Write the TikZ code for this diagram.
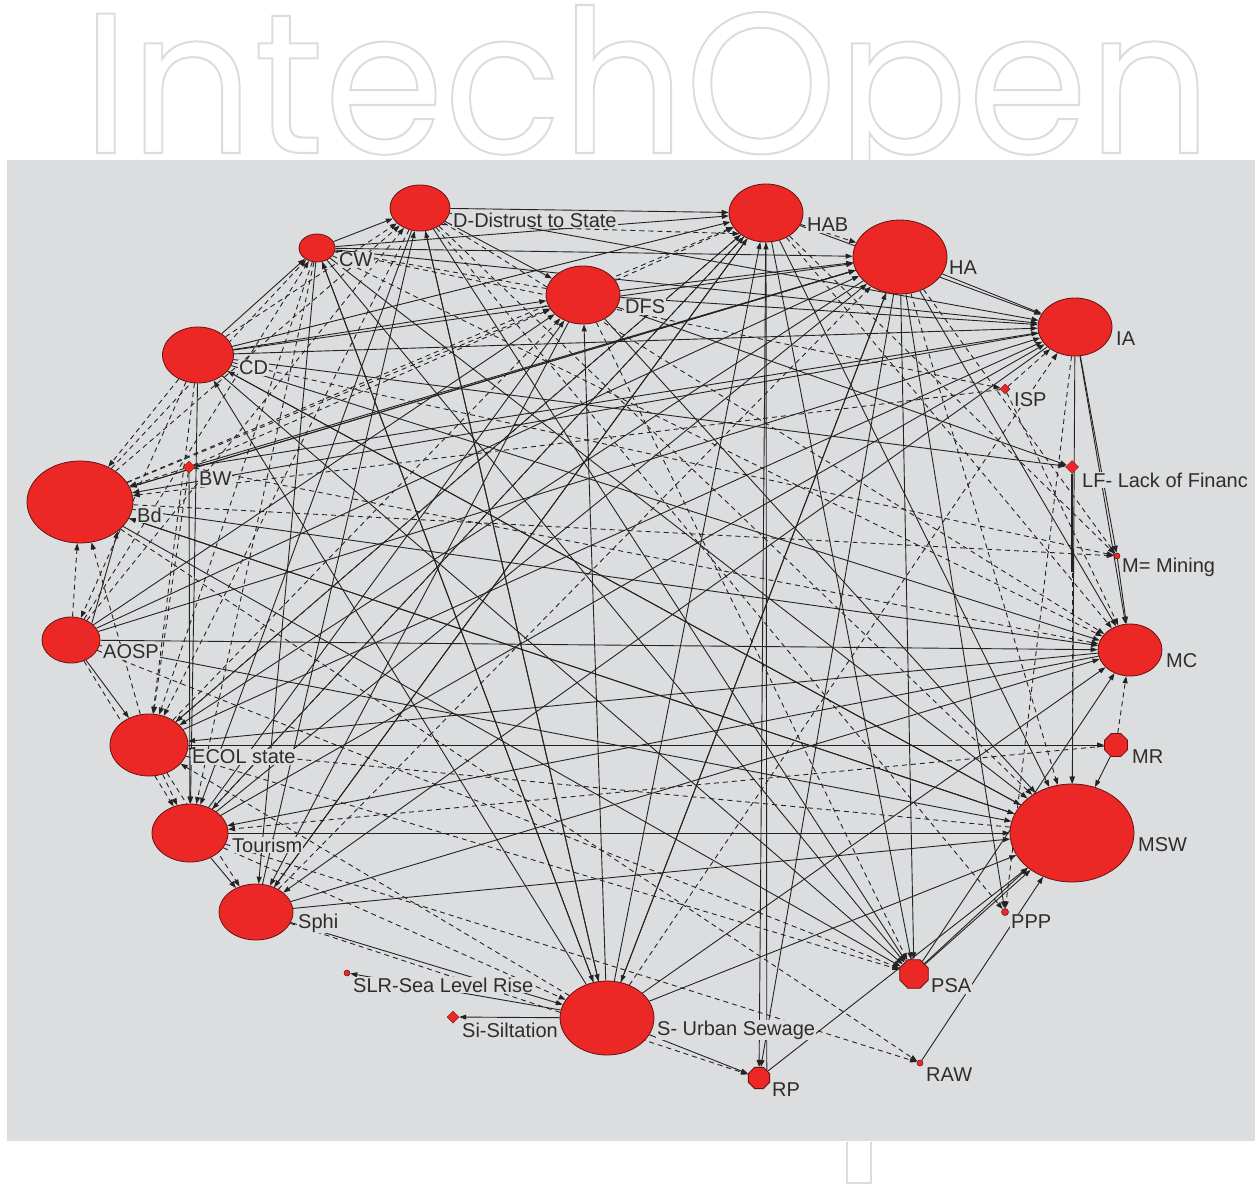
\documentclass[tikz,border=0pt]{standalone}
\usepackage{fontspec}
\setmainfont{Liberation Sans}
\newfontfamily\wmfont{Poppins}
\usetikzlibrary{shapes.geometric,arrows.meta}
\definecolor{bgc}{RGB}{220,221,223}
\definecolor{nodered}{RGB}{236,40,38}
\definecolor{edgec}{RGB}{35,35,35}
\definecolor{labc}{RGB}{45,45,45}
\definecolor{wmc}{RGB}{220,220,220}
\pgfdeclarelayer{back}
\pgfdeclarelayer{edges}
\pgfsetlayers{back,edges,main}
\tikzset{
  big/.style={ellipse, fill=nodered, draw=nodered!45!black, line width=0.8pt, inner sep=0pt},
  oct/.style={regular polygon, regular polygon sides=8, fill=nodered, draw=nodered!45!black, line width=0.8pt, inner sep=0pt},
  dia/.style={diamond, fill=nodered, draw=nodered!60!black, line width=0.5pt, inner sep=0pt, minimum width=12pt, minimum height=12pt},
  dot/.style={circle, fill=nodered, draw=nodered!40!black, line width=0.5pt, inner sep=0pt, minimum size=6pt},
  lab/.style={anchor=west, font=\fontsize{20}{20}\selectfont, text=labc, fill=bgc, inner sep=1pt},
  con/.style={draw=edgec, line width=0.9pt, -{Triangle[length=7pt,width=5pt]}},
  dcon/.style={con, dash pattern=on 5pt off 4pt},
  wmark/.style={anchor=base west, inner sep=0pt, text=wmc, font=\wmfont\fontsize{200}{200}\selectfont}
}
\begin{document}
\begin{tikzpicture}[x=1pt,y=-1pt]
\useasboundingbox (0,0) rectangle (1260,1188);
\begin{pgfonlayer}{back}
\node[wmark] (wm) at (82,153) {\scalebox{0.967}[1]{\special{pdf:literal direct 1 Tr 2 w}IntechOpen\special{pdf:literal direct 0 Tr}}};
\fill[bgc] (7,160) rectangle (1255,1141);
\draw[wmc, line width=2pt] (847,1142) -- (847,1183) -- (871,1183) -- (871,1142);
\end{pgfonlayer}

% nodes
\node[big, minimum width=60pt, minimum height=46pt] (D) at (420,208) {};
\node[big, minimum width=36pt, minimum height=28pt] (CW) at (317,248) {};
\node[big, minimum width=71pt, minimum height=56pt] (CD) at (198,355) {};
\node[big, minimum width=74pt, minimum height=58pt] (HAB) at (766,213) {};
\node[big, minimum width=74pt, minimum height=58pt] (DFS) at (583,295) {};
\node[big, minimum width=94pt, minimum height=74pt] (HA) at (900,257) {};
\node[big, minimum width=74pt, minimum height=58pt] (IA) at (1075,327) {};
\node[dia, minimum width=10pt, minimum height=10pt] (ISP) at (1005,389) {};
\node[dia, minimum width=13pt, minimum height=13pt] (LF) at (1072,467) {};
\node[dot] (M) at (1117,556) {};
\node[big, minimum width=64pt, minimum height=52pt] (MC) at (1130,650) {};
\node[oct, minimum size=25pt] (MR) at (1116,745) {};
\node[big, minimum width=124pt, minimum height=98pt] (MSW) at (1072,833) {};
\node[dot, minimum size=7pt] (PPP) at (1005,912) {};
\node[oct, minimum size=31pt] (PSA) at (914,974) {};
\node[dot] (RAW) at (920,1063) {};
\node[oct, minimum size=23pt] (RP) at (759,1078) {};
\node[big, minimum width=94pt, minimum height=74pt] (S) at (607,1018) {};
\node[dia] (Si) at (453,1017) {};
\node[dot] (SLR) at (347,973) {};
\node[big, minimum width=74pt, minimum height=56pt] (Sphi) at (256,912) {};
\node[big, minimum width=76pt, minimum height=58pt] (Tour) at (190,833) {};
\node[big, minimum width=78pt, minimum height=62pt] (ECOL) at (149,745) {};
\node[big, minimum width=58pt, minimum height=46pt] (AOSP) at (71,640) {};
\node[big, minimum width=106pt, minimum height=82pt] (Bd) at (80,502) {};
\node[dia] (BW) at (189,467) {};
\coordinate (LFend) at (1072,572);

% edges
\begin{pgfonlayer}{edges}
\foreach \a/\b in {D/HAB, D/DFS, D/IA, D/S, D/PSA, D/Tour,
  CW/HA, CW/IA, CW/HAB, CW/S, CW/MSW, CW/PSA, CW/Sphi, CW/D,
  CD/DFS, CD/HAB, CD/HA, CD/IA, CD/Tour, CD/CW, CD/MC, CD/MSW, CD/PSA, CD/LF,
  DFS/IA, DFS/HA, S/DFS, DFS/MSW, DFS/LF, DFS/Sphi,
  HAB/RP, HAB/MSW, HAB/PSA, HAB/Sphi, HAB/IA, HAB/Tour,
  HA/IA, HA/MC, HA/PSA, HA/RP, HA/ECOL, HA/S, HA/PPP, HA/Bd,
  IA/MC, IA/MSW, IA/Bd, IA/Sphi, IA/M,
  M/MC, MR/MSW,
  Bd/MSW, Bd/MC, Bd/PSA, Bd/HA,
  AOSP/MC, AOSP/MSW, AOSP.north east/Bd.south east, AOSP/DFS, AOSP/HA, AOSP/IA, AOSP/ECOL,
  ECOL/MR, ECOL/IA, ECOL/HAB,
  Tour/MSW, Tour/HA, Tour/IA, Tour/DFS, Tour/Sphi,
  Sphi/MSW, Sphi/MC, Sphi/HAB, Sphi/D, Sphi/S,
  S/Si, S/SLR, S/RP, S/HA, S/HAB, S/CD, S/CW, S/D, S/MSW, S/MC,
  RP/MSW, RP.north east/HAB.south, PSA/MSW, PSA.north east/MSW.south west, PSA/MC, RAW/MSW,
  BW/Tour, BW/IA, BW/HA, MSW/CD, MSW/Bd, MC/ECOL, MC/Tour}
  \draw[con] (\a) -- (\b);
\foreach \a/\b in {D.south east/HAB.south west, D/MSW,
  CD/D, CD/Bd, CD/ECOL, CD/AOSP, Bd/CW, Bd/D, Bd/DFS, BW/Bd, BW/DFS, BW/MC, BW/ECOL,
  AOSP/Bd, AOSP/Tour, ECOL/Sphi, ECOL/PSA, ECOL/Bd, ECOL/Tour, Tour/S, Tour/RAW,
  DFS/HAB, DFS/CW, HA/MSW, HAB/MC, ISP/IA, MR/MC, S/IA, Bd/RAW, Bd/M, Sphi/RP,
  HAB/HA, HAB/ECOL, D/PPP, CW/ISP, Bd/HAB, AOSP/CW, AOSP/D, ECOL/DFS, Tour/HAB,
  Sphi/HA, S/ECOL, AOSP/PSA, MSW/ECOL, MR/Tour, ISP/Bd, CD/M,
  CW/Tour, D/ECOL, CW/ECOL, DFS/PSA, IA/PPP, HA/M, HAB/M, LF/MSW, ISP/MC, D/MC, CW/MC}
  \draw[dcon] (\a) -- (\b);
\draw[draw=edgec, line width=2pt] (LF) -- (LFend);
\end{pgfonlayer}

% labels
\node[lab] (lD) at (452,220) {D-Distrust to State};
\node[lab] (lCW) at (338,260) {CW};
\node[lab] (lCD) at (238,368) {CD};
\node[lab] (lHAB) at (806,225) {HAB};
\node[lab] (lDFS) at (624,307) {DFS};
\node[lab] (lHA) at (948,268) {HA};
\node[lab] (lIA) at (1115,339) {IA};
\node[lab] (lISP) at (1013,400) {ISP};
\node[lab] (lLF) at (1081,480) {LF- Lack of Financ};
\node[lab] (lM) at (1121,567) {M= Mining};
\node[lab] (lMC) at (1165,661) {MC};
\node[lab] (lMR) at (1131,757) {MR};
\node[lab] (lMSW) at (1137,845) {MSW};
\node[lab] (lPPP) at (1010,922) {PPP};
\node[lab] (lPSA) at (930,986) {PSA};
\node[lab] (lRAW) at (925,1075) {RAW};
\node[lab] (lRP) at (771,1090) {RP};
\node[lab] (lS) at (656,1030) {S- Urban Sewage};
\node[lab] (lSi) at (461,1030) {Si-Siltation};
\node[lab] (lSLR) at (352,985) {SLR-Sea Level Rise};
\node[lab] (lSphi) at (297,923) {Sphi};
\node[lab] (lTour) at (231,845) {Tourism};
\node[lab] (lECOL) at (191,757) {ECOL state};
\node[lab] (lAOSP) at (102,652) {AOSP};
\node[lab] (lBd) at (136,515) {Bd};
\node[lab] (lBW) at (198,479) {BW};
\end{tikzpicture}
\end{document}
